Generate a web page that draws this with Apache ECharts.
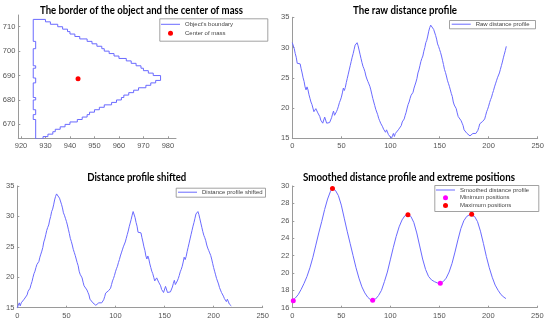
<!DOCTYPE html>
<html><head><meta charset="utf-8">
<script src="https://cdn.jsdelivr.net/npm/echarts@6/dist/echarts.min.js"></script>
<style>html,body{margin:0;padding:0;background:#fff}#c{width:550px;height:322px}</style>
</head><body><div id="c"></div>
<script>
// ---------- DATA ----------
const boundaryX = [925,930,930,932,932,935,935,937,937,939,939,940,940,942,942,944,944,947,947,949,949,951,951,953,953,954,954,956,956,958,958,960,960,963,963,965,965,967,967,969,969,970,970,972,972,974,974,977,977,
975,975,973,973,971,971,968,968,966,966,964,964,962,962,961,961,959,959,957,957,954,954,952,952,950,950,948,948,947,947,945,945,943,943,940,940,938,938,936,936,934,934,933,933,931,931,929,929,926,
926,925,925,926,926,925,925,926,926,925,925,926,926,925,925,926,926,925,925,926,926,925,925];
const boundaryY = [713,713,712,712,711,711,710,710,709,709,708,708,707,707,706,706,705,705,704,704,703,703,702,702,701,701,700,700,699,699,698,698,697,697,696,696,695,695,694,694,693,693,692,692,691,691,690,690,688,
688,687,687,686,686,685,685,684,684,683,683,682,682,681,681,680,680,679,679,678,678,677,677,676,676,675,675,674,674,673,673,672,672,671,671,670,670,669,669,668,668,667,667,666,666,665,665,664,664,
672,672,674,674,676,676,680,680,681,681,687,687,689,689,693,693,694,694,701,701,704,704,713];
const centerOfMass = [943.3, 688.7];

const rawProfile = [
30.8,30.5,29.8,29.0,28.4,27.4,27.2,27.7,27.3,26.5,
25.8,25.0,24.4,23.5,23.0,23.5,23.0,22.2,21.6,21.0,
20.6,20.0,19.4,19.2,19.9,19.7,19.2,19.0,18.6,18.0,
17.7,17.5,17.6,18.5,18.4,17.5,17.3,17.4,17.6,17.9,
18.4,19.0,19.5,18.8,18.9,19.4,19.8,20.3,20.9,21.3,
21.8,22.5,23.3,22.9,23.4,24.2,24.9,25.6,26.3,27.0,
27.7,28.4,29.0,29.7,30.4,30.2,30.8,30.3,29.6,28.9,
28.2,27.5,26.9,26.5,26.0,25.3,24.8,24.4,24.0,23.6,
23.0,22.3,21.6,21.0,20.4,19.8,19.5,18.9,18.3,17.9,
17.5,17.2,16.9,16.5,16.2,16.0,16.4,16.1,15.6,15.5,
15.3,15.0,15.4,15.8,15.3,15.8,16.1,15.9,16.4,16.6,
16.4,17.1,17.7,17.6,18.2,18.8,19.3,20.0,20.6,21.0,
21.6,22.1,21.9,22.6,23.3,23.8,24.3,24.9,25.8,26.3,
27.0,27.7,28.2,28.6,29.4,30.0,30.8,31.2,31.9,32.7,
33.3,33.7,33.6,33.7,33.0,32.8,32.0,31.4,30.6,30.2,
29.7,29.2,28.6,27.9,27.2,26.4,25.9,25.3,24.6,24.1,
23.6,23.0,22.4,21.9,21.0,20.5,20.2,19.9,19.2,18.6,
18.6,18.3,17.9,17.5,17.1,16.4,16.2,16.1,15.8,15.5,
15.8,15.4,15.6,15.2,15.8,15.9,15.5,15.8,16.0,16.3,
16.8,17.4,17.2,17.6,17.8,17.6,18.2,18.8,19.4,19.8,
20.3,20.9,21.4,21.8,22.4,22.9,23.5,24.0,24.5,25.0,
25.3,25.8,26.4,27.0,27.6,28.3,28.9,29.5,30.2];
const shiftAmount = 101;

const smoothX = [0,3,6,9,12,15,18,21,24,27,30,33,36,39,41,44,47,50,53,56,59,62,65,68,71,74,77,80,82,85,88,91,94,97,100,103,106,109,112,115,118,121,124,127,130,133,136,139,142,145,148,151,154,157,160,163,166,169,172,175,178,181,183,186,189,192,195,198,201,204,207,210,213,216,218];
const smoothY = [16.8,17.1,17.5,18.1,18.8,19.6,20.6,21.8,23.2,24.6,25.9,27.3,28.5,29.4,29.7,29.5,28.9,27.8,26.3,24.8,23.4,22.0,20.6,19.4,18.4,17.7,17.2,16.9,16.85,17.0,17.4,18.0,19.0,20.1,21.5,22.9,24.2,25.3,26.1,26.6,26.75,26.5,25.8,24.6,23.1,21.6,20.4,19.6,19.2,19.0,18.85,18.8,19.0,19.4,20.1,21.1,22.4,23.8,25.1,26.0,26.5,26.7,26.75,26.5,25.9,24.8,23.4,21.9,20.6,19.5,18.6,18.0,17.5,17.2,17.05];
const minPosX = [1, 82, 151];
const minPosY = [16.8, 16.85, 18.8];
const maxPosX = [41, 118, 183];
const maxPosY = [29.7, 26.7, 26.75];

const xTicksBorder = [920,930,940,950,960,970,980];
const yTicksBorder = [670,680,690,700,710];

const titleTexts = ['The border of the object and the center of mass','The raw distance profile','Distance profile shifted','Smoothed distance profile and extreme positions'];
const seriesNames = ["Object's boundary","Center of mass","Raw distance profile","Distance profile shifted","Smoothed distance profile","Minimum positions","Maximum positions"];

// ---------- BUILD ----------
const shifted = rawProfile.slice(shiftAmount).concat(rawProfile.slice(0, shiftAmount));
const zip = (a, b) => a.map((v, i) => [v, b[i]]);
const idx = arr => arr.map((v, i) => [i, v]);

const mctx = document.createElement('canvas').getContext('2d');
function measure(t, font){ mctx.font = font; return mctx.measureText(t).width; }

const LINE = '#6a6aff';
const AX = '#9a9a9a';
const LBL = '#555';
const tickFont = '"Liberation Sans", Arial, sans-serif';
const legFont = '"Liberation Sans", Arial, sans-serif';
const legFs = 10 * 54 / measure('Raw distance profile', '10px ' + legFont);
const LINE_ICON = 'path://M0,0H19V1H0Z';

function axis(grid, min, max, extra, isY){
  return Object.assign({
    type: 'value', gridIndex: grid, min: min, max: max,
    axisLine: {show: true, onZero: false, lineStyle: {color: AX, width: 1}},
    axisTick: {show: true, inside: true, length: 2, lineStyle: {color: AX}},
    splitLine: {show: false},
    axisLabel: {color: LBL, fontSize: 7.5, fontFamily: tickFont, margin: isY ? 3 : 4}
  }, extra || {});
}

const grids = [
  {left: 18.3, top: 15, width: 157.7, height: 123.3},
  {left: 292.3, top: 17.3, width: 245.4, height: 121},
  {left: 17.3, top: 186, width: 245.4, height: 121.7},
  {left: 292.3, top: 186, width: 245, height: 121.7}
].map(g => Object.assign(g, {outerBoundsMode: 'none', containLabel: false}));

const xAxes = [
  axis(0, 918.9, 983.3, {}, false),
  axis(1, 0, 250, {interval: 50}, false),
  axis(2, 0, 250, {interval: 50}, false),
  axis(3, 0, 250, {interval: 50}, false)
];
xAxes[0].axisTick.customValues = xTicksBorder;
xAxes[0].axisLabel.customValues = xTicksBorder;
const yAxes = [
  axis(0, 664.3, 714.8, {}, true),
  axis(1, 15, 35, {interval: 5}, true),
  axis(2, 15, 35, {interval: 5}, true),
  axis(3, 16, 30, {interval: 2}, true)
];
yAxes[0].axisTick.customValues = yTicksBorder;
yAxes[0].axisLabel.customValues = yTicksBorder;

function lineSeries(name, g, data){
  return {type: 'line', name: name, xAxisIndex: g, yAxisIndex: g, data: data, symbol: 'none',
    lineStyle: {color: LINE, width: 1}, itemStyle: {color: LINE}, z: 2, silent: true, clip: true};
}
function dotSeries(name, g, data, color, size){
  return {type: 'scatter', name: name, xAxisIndex: g, yAxisIndex: g, data: data, symbol: 'circle',
    symbolSize: size, itemStyle: {color: color, opacity: 1}, z: 3, silent: true};
}

const series = [
  lineSeries(seriesNames[0], 0, zip(boundaryX, boundaryY)),
  dotSeries(seriesNames[1], 0, [centerOfMass], '#ff0000', 5),
  lineSeries(seriesNames[2], 1, idx(rawProfile)),
  lineSeries(seriesNames[3], 2, idx(shifted)),
  lineSeries(seriesNames[4], 3, zip(smoothX, smoothY)),
  dotSeries(seriesNames[5], 3, zip(minPosX, minPosY), '#ff00ff', 5),
  dotSeries(seriesNames[6], 3, zip(maxPosX, maxPosY), '#ff0000', 5)
];

const lineNames = [seriesNames[0], seriesNames[2], seriesNames[3], seriesNames[4]];
function legend(names, left, top, gap){
  return {
    data: names.map(n => lineNames.indexOf(n) >= 0 ? {name: n, icon: LINE_ICON, itemStyle: {color: LINE}} : {name: n, icon: 'circle'}),
    orient: 'vertical', left: left, top: top, padding: 0, itemGap: gap,
    itemWidth: 19, itemHeight: 5, selectedMode: false, z: 10, symbolKeepAspect: true,
    textStyle: {fontSize: legFs, fontFamily: legFont, color: '#444', lineHeight: 8}};
}
const legends = [
  legend([seriesNames[0], seriesNames[1]], 161, 20.3, 1),
  legend([seriesNames[2]], 451.7, 20.2, 1),
  legend([seriesNames[3]], 178, 188.2, 1),
  legend([seriesNames[4], seriesNames[5], seriesNames[6]], 436, 186, -0.3)
];

const titleFont = 'bold 10.5px Lato, "Open Sans", sans-serif';
const titlePos = [[141.5, 10.5, 203], [405, 10.5, 104], [136.7, 177.7, 99], [409, 177.3, 212]];
const graphics = titleTexts.map((t, i) => ({
  type: 'text', x: titlePos[i][0], y: titlePos[i][1], z: 20,
  scaleX: titlePos[i][2] / measure(t, titleFont),
  style: {text: t, font: titleFont, fill: '#000', align: 'center', verticalAlign: 'middle'}
}));
const boxes = [[159.3, 18.3, 108, 22.4], [449, 20, 86, 8.3], [175.7, 187.7, 89.3, 9], [434.3, 185, 104, 26]];
boxes.forEach(b => graphics.push({type: 'rect', z: 5,
  shape: {x: b[0] + 0.5, y: b[1] + 0.5, width: b[2], height: b[3]},
  style: {fill: '#fff', stroke: '#8a8a8a', lineWidth: 0.8}}));

const chart = echarts.init(document.getElementById('c'), null, {renderer: 'canvas'});
chart.setOption({
  animation: false,
  backgroundColor: '#fff',
  grid: grids, xAxis: xAxes, yAxis: yAxes,
  series: series, legend: legends, graphic: graphics
});
</script></body></html>
